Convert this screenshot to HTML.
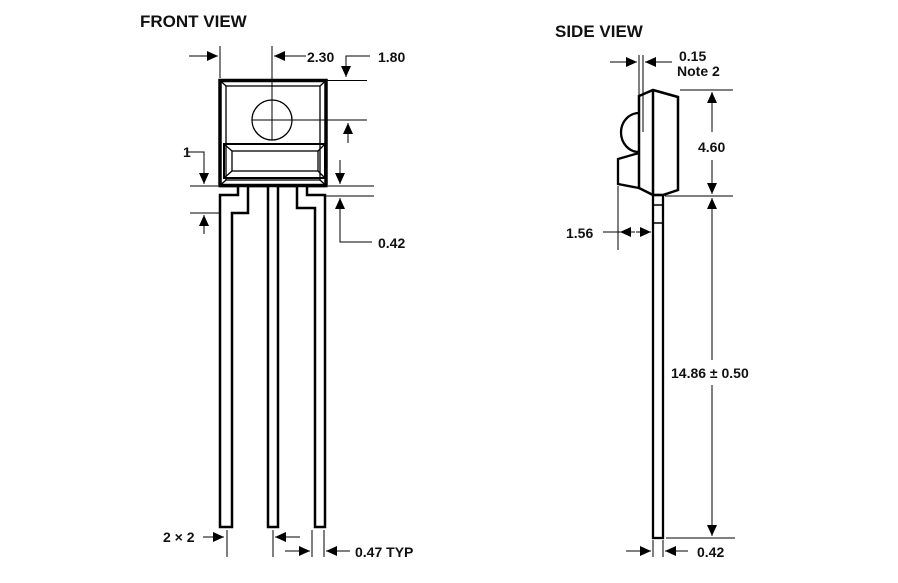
<!DOCTYPE html>
<html><head><meta charset="utf-8"><style>
html,body{margin:0;padding:0;background:#fff;}
svg{display:block;}
text{font-family:"Liberation Sans",Arial,sans-serif;font-weight:bold;fill:#111;}
</style></head><body>
<svg width="898" height="583" viewBox="0 0 898 583" xmlns="http://www.w3.org/2000/svg">
<defs>
<marker id="a" markerUnits="userSpaceOnUse" markerWidth="12" markerHeight="10" refX="11" refY="5" orient="auto">
<path d="M0,0 L11,5 L0,10 z" fill="#000"/>
</marker>
</defs>
<text x="140" y="27" font-size="17">FRONT VIEW</text>
<text x="555" y="37" font-size="17">SIDE VIEW</text>

<g fill="none" stroke="#000">
<rect x="220" y="80.5" width="106" height="105" stroke-width="3.5"/>
<rect x="226" y="86" width="94" height="94" stroke-width="1.3"/>
<path d="M220,80.5 L226,86 M326,80.5 L320,86 M220,185.5 L226,180 M326,185.5 L320,180" stroke-width="1.3"/>
<rect x="224" y="144" width="101" height="34" stroke-width="2"/>
<rect x="232" y="151" width="86" height="20" stroke-width="1.3"/>
<path d="M224,144 L232,151 M325,144 L318,151 M224,178 L232,171 M325,178 L318,171" stroke-width="1.3"/>
<circle cx="272" cy="120" r="20" stroke-width="1.3"/>
<path d="M220,186 L238,186 L238,195 L220,195 L220,527 L232,527 L232,213 L248,213 L248,186 L268,186 L268,527 L278,527 L278,186 L297,186 L297,208 L315,208 L315,527 L325,527 L325,195 L307,195 L307,186 L326,186" stroke-width="2.5" stroke-linejoin="miter"/>
</g>

<g stroke="#000" stroke-width="1" fill="none">
<line x1="220" y1="46" x2="220" y2="78"/>
<line x1="189" y1="56" x2="218" y2="56" marker-end="url(#a)"/>
<line x1="272" y1="46" x2="272" y2="140"/>
<line x1="306" y1="56" x2="274" y2="56" marker-end="url(#a)"/>
<line x1="252" y1="120" x2="367" y2="120"/>
<path d="M370,56 L346,56 L346,77" marker-end="url(#a)"/>
<line x1="327" y1="80.5" x2="367" y2="80.5"/>
<line x1="348" y1="143" x2="348" y2="123" marker-end="url(#a)"/>
<path d="M186,152 L204,152 L204,184" marker-end="url(#a)"/>
<line x1="190" y1="186" x2="218" y2="186"/>
<line x1="190" y1="213" x2="220" y2="213"/>
<line x1="204" y1="234" x2="204" y2="215" marker-end="url(#a)"/>
<line x1="340" y1="160" x2="340" y2="184" marker-end="url(#a)"/>
<line x1="328" y1="186" x2="374" y2="186"/>
<line x1="326" y1="196" x2="374" y2="196"/>
<path d="M372,242 L340,242 L340,198" marker-end="url(#a)"/>
<line x1="203" y1="537" x2="224" y2="537" marker-end="url(#a)"/>
<line x1="227" y1="530" x2="227" y2="557"/>
<line x1="273" y1="530" x2="273" y2="557"/>
<line x1="300" y1="537" x2="275" y2="537" marker-end="url(#a)"/>
<line x1="312" y1="530" x2="312" y2="557"/>
<line x1="324" y1="530" x2="324" y2="557"/>
<line x1="285" y1="551" x2="310" y2="551" marker-end="url(#a)"/>
<line x1="350" y1="551" x2="326" y2="551" marker-end="url(#a)"/>
</g>
<text x="378" y="62" font-size="14">1.80</text>
<text x="307" y="62" font-size="14">2.30</text>
<text x="183" y="157" font-size="14">1</text>
<text x="378" y="248" font-size="14">0.42</text>
<text x="163" y="542" font-size="14">2 × 2</text>
<text x="355" y="557" font-size="14">0.47 TYP</text>

<g fill="none" stroke="#000">
<path d="M639,96 L653,90 L678,97 L678,190 L663,195 L653,195 L639,188 Z" stroke-width="2.5" stroke-linejoin="miter"/>
<line x1="653" y1="90" x2="653" y2="195" stroke-width="2.5"/>
<path d="M639,113 A18,19.5 0 0 0 639,152" stroke-width="2.3"/>
<path d="M639,153 L618,159 L618,184 L639,188" stroke-width="2.3"/>
<rect x="653" y="195" width="10" height="343" stroke-width="2.3"/>
<path d="M653,205 L663,205 M653,223 L663,223" stroke-width="1.5"/>
</g>
<g stroke="#000" stroke-width="1" fill="none">
<line x1="639" y1="55" x2="639" y2="96"/>
<line x1="643" y1="55" x2="643" y2="132"/>
<line x1="610" y1="62" x2="637" y2="62" marker-end="url(#a)"/>
<line x1="672" y1="62" x2="645" y2="62" marker-end="url(#a)"/>
<line x1="680" y1="90" x2="733" y2="90"/>
<line x1="665" y1="196" x2="733" y2="196"/>
<line x1="712" y1="132" x2="712" y2="92" marker-end="url(#a)"/>
<line x1="712" y1="160" x2="712" y2="194" marker-end="url(#a)"/>
<line x1="712" y1="360" x2="712" y2="198" marker-end="url(#a)"/>
<line x1="712" y1="385" x2="712" y2="536" marker-end="url(#a)"/>
<line x1="666" y1="538" x2="735" y2="538"/>
<line x1="618" y1="186" x2="618" y2="250"/>
<line x1="603" y1="232" x2="621" y2="232"/>
<line x1="635" y1="232" x2="620" y2="232" marker-end="url(#a)"/>
<line x1="636" y1="232" x2="651" y2="232" marker-end="url(#a)"/>
<line x1="653" y1="540" x2="653" y2="557"/>
<line x1="663" y1="540" x2="663" y2="557"/>
<line x1="626" y1="551" x2="651" y2="551" marker-end="url(#a)"/>
<line x1="688" y1="551" x2="665" y2="551" marker-end="url(#a)"/>
</g>
<text x="679" y="61" font-size="14">0.15</text>
<text x="677" y="76" font-size="14">Note 2</text>
<text x="698" y="152" font-size="14">4.60</text>
<text x="566" y="238" font-size="14">1.56</text>
<text x="671" y="378" font-size="14">14.86 ± 0.50</text>
<text x="697" y="557" font-size="14">0.42</text>
</svg>
</body></html>
